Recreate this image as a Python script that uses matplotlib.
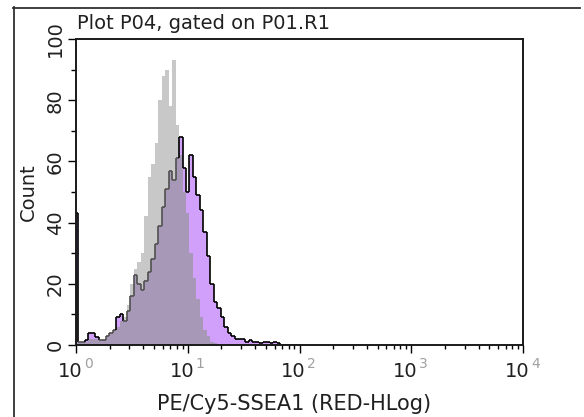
import numpy as np
import matplotlib
matplotlib.use('Agg')
import matplotlib.pyplot as plt
from matplotlib.transforms import offset_copy
from matplotlib.lines import Line2D
from matplotlib.collections import LineCollection
from matplotlib.ticker import NullFormatter

plt.rcParams['font.family'] = 'DejaVu Sans'

# counts, 32 channels per decade from 10^0
# (channel 0 is the pile-up at the left edge, half width)
sample_counts = [43, 1, 1, 1.5, 4, 4, 2.5, 1.5, 1.5, 3, 4, 5, 9, 10, 8, 11,
                 16, 23, 20, 18, 21, 24, 28, 33, 39, 45, 51, 57, 54, 61, 68, 58,
                 50, 62, 55, 49, 44, 37, 29, 20, 14, 12, 9, 6, 4, 3, 2, 2,
                 2, 1, 1.5, 1, 1, 0.5, 1, 1, 0.5, 1, 0.5, 0, 0, 0, 0, 0, 0]
control_counts = [22, 1, 1, 1, 2, 2, 2, 1.5, 2, 3, 4, 5, 6, 8, 9, 13,
                  20, 25, 27, 30, 42, 55, 59, 66, 80, 88, 90, 78, 93, 72, 62, 50,
                  43, 30, 22, 15, 9, 5, 3, 1, 0.5, 0, 0, 0, 0, 0, 0, 0,
                  0, 0, 0, 0, 0, 0, 0, 0, 0, 0, 0, 0, 0, 0, 0, 0, 0]
channels_per_decade = 32

y_major = [0, 20, 40, 60, 80, 100]
y_minor = [10, 30, 50, 70, 90]
decades = [1, 10, 100, 1000, 10000]
exponents = ['0', '1', '2', '3', '4']

title = 'Plot P04, gated on P01.R1'
xlabel = 'PE/Cy5-SSEA1 (RED-HLog)'
ylabel = 'Count'

purple = np.array(sample_counts, dtype=float)
gray = np.array(control_counts, dtype=float)
n = len(purple)
log_edges = np.concatenate([[0], (np.arange(1, n + 1) - 0.5) / channels_per_decade])
edges = 10 ** log_edges
overlap = np.minimum(purple, gray)

W, H = 584, 417
fig = plt.figure(figsize=(W / 100, H / 100), dpi=100)
ax = fig.add_axes([76 / W, 1 - 345 / H, 447 / W, 306 / H])

ax.stairs(gray, edges, fill=True, color='#c8c8c8', lw=0)
ax.stairs(purple, edges, fill=True, color='#d0a0fa', lw=0)
ax.stairs(overlap, edges, fill=True, color='#a898b8', lw=0)

# outline of the sample: black above the control, dark grey under it
segs, cols = [], []
for i in range(n):
    segs.append([(edges[i], purple[i]), (edges[i + 1], purple[i])])
    cols.append('black' if purple[i] > gray[i] else '#505050')
    if i + 1 < n:
        segs.append([(edges[i + 1], purple[i]), (edges[i + 1], purple[i + 1])])
        above = purple[i] > gray[i] or purple[i + 1] > gray[i + 1]
        cols.append('black' if above else '#505050')
ax.add_collection(LineCollection(segs, colors=cols, linewidths=1.2))

ax.set_xscale('log')
ax.set_xlim(1, 1e4)
ax.set_ylim(0, 100)
ax.set_yticks(y_major)
ax.set_yticks(y_minor, minor=True)
ax.set_yticklabels([str(v) for v in y_major], rotation=90, va='center',
                   fontsize=14, color='#202020')
ax.set_xticks(decades)
ax.set_xticklabels([])
ax.xaxis.set_minor_formatter(NullFormatter())
ax.tick_params(axis='y', which='major', direction='out', length=6, width=1, pad=2)
ax.tick_params(axis='y', which='minor', direction='out', length=3.6, width=1)
ax.tick_params(axis='x', which='major', direction='out', length=6, width=1)
ax.tick_params(axis='x', which='minor', direction='out', length=3, width=1)
for s in ax.spines.values():
    s.set_linewidth(1.4)
    s.set_color('#1a1a1a')

trans = ax.get_xaxis_transform()
for d, e in zip(decades, exponents):
    ax.text(d, 0, '10', transform=offset_copy(trans, fig, x=-6, y=-17, units='dots'),
            ha='center', va='top', fontsize=14, color='#202020')
    ax.text(d, 0, e, transform=offset_copy(trans, fig, x=8, y=-12, units='dots'),
            ha='left', va='top', fontsize=10, color='#a0a0a0')

fig.text(77 / W, 1 - 29 / H, title, ha='left', va='baseline', fontsize=14, color='#202020')
fig.text(28 / W, 1 - 192 / H, ylabel, rotation=90, ha='center', va='center',
         fontsize=14, color='#202020')
fig.text(294 / W, 1 - 404 / H, xlabel, ha='center', va='center', fontsize=15,
         color='#202020')

# outer panel frame
fig.add_artist(Line2D([13.5 / W, 13.5 / W], [0, 1 - 7 / H], color='#303030', lw=1.3))
fig.add_artist(Line2D([13 / W, 580 / W], [1 - 7.5 / H, 1 - 7.5 / H], color='#303030', lw=1.3))

fig.savefig('out.png', dpi=100)
